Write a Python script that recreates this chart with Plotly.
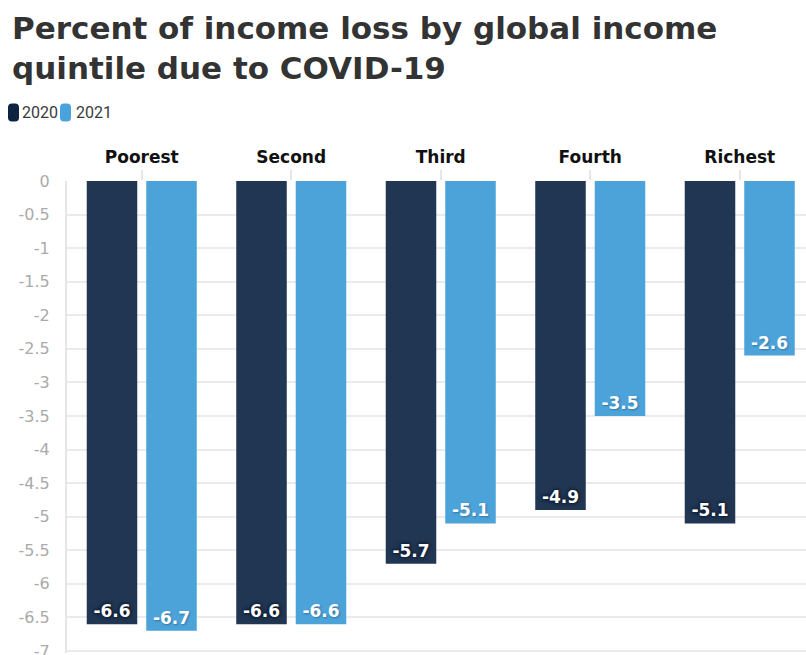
import plotly.graph_objects as go

# Income loss by global income quintile (percent)
quintiles = ["Poorest", "Second", "Third", "Fourth", "Richest"]
loss_2020 = [-6.6, -6.6, -5.7, -4.9, -5.1]
loss_2021 = [-6.7, -6.6, -5.1, -3.5, -2.6]
y_ticks = [0, -0.5, -1, -1.5, -2, -2.5, -3, -3.5, -4, -4.5, -5, -5.5, -6, -6.5, -7]
series_names = ["2020", "2021"]

DARK = "#213652"
LIGHT = "#4ca3d9"
LEGEND_DARK = "#0e2340"
LEGEND_LIGHT = "#4aa2dc"

W, H = 806, 655
ML, MT, MB, MR = 67, 181, 2, 0
plot_w = W - ML - MR
plot_h = H - MT - MB
cat_px = 149.5


def px_x(px):
    return (px - ML) / plot_w


def px_y(py):
    return (H - MB - py) / plot_h


fig = go.Figure()

label_font = dict(family="DejaVu Sans", size=17, color="white", weight="bold")

fig.add_trace(go.Bar(
    x=quintiles, y=loss_2020, name=series_names[0],
    marker=dict(color=DARK, line=dict(width=0)),
    text=[f"{v:.1f}" for v in loss_2020],
    textposition="inside", insidetextanchor="end", textangle=0,
    textfont=dict(**label_font, shadow="0px 0px 3px #0a1426, 0px 0px 4px #0a1426"),
    showlegend=False,
))
fig.add_trace(go.Bar(
    x=quintiles, y=loss_2021, name=series_names[1],
    marker=dict(color=LIGHT, line=dict(width=0)),
    text=[f"{v:.1f}" for v in loss_2021],
    textposition="inside", insidetextanchor="end", textangle=0,
    textfont=dict(**label_font, shadow="1px 1px 2px rgba(20,60,100,0.45)"),
    showlegend=False,
))

# Legend: rounded swatches plus labels
shapes = []
annotations = []
swatch = "M -5.5,-5 L -5.5,5 Q -5.5,9 -1.5,9 L 1.5,9 Q 5.5,9 5.5,5 L 5.5,-5 Q 5.5,-9 1.5,-9 L -1.5,-9 Q -5.5,-9 -5.5,-5 Z"
for cx, txt_x, color, name in [(13.5, 20, LEGEND_DARK, series_names[0]),
                               (65.5, 74, LEGEND_LIGHT, series_names[1])]:
    shapes.append(dict(
        type="path", xref="paper", yref="paper",
        xsizemode="pixel", ysizemode="pixel",
        xanchor=px_x(cx), yanchor=px_y(112.5),
        path=swatch, fillcolor=color, line=dict(width=0), layer="above",
    ))
    annotations.append(dict(
        text=name, xref="paper", yref="paper",
        x=px_x(txt_x), y=px_y(113), xanchor="left", yanchor="middle",
        showarrow=False, font=dict(family="Roboto", size=16, color="#3a3a3a"),
    ))

# Two-line heading
annotations.append(dict(
    text="Percent of income loss by global income<br>quintile due to COVID-19",
    xref="paper", yref="paper", x=px_x(10), y=px_y(8),
    xanchor="left", yanchor="top", align="left", showarrow=False,
    font=dict(family="DejaVu Sans", size=31, color="#333333", weight="bold"),
))

fig.update_layout(
    width=W, height=H,
    margin=dict(l=ML, r=MR, t=MT, b=MB, pad=0, autoexpand=False),
    paper_bgcolor="white", plot_bgcolor="white",
    barmode="group", bargap=0.204, bargroupgap=0.151,
    shapes=shapes,
    annotations=annotations,
    xaxis=dict(
        side="top", range=[-0.5, -0.5 + plot_w / cat_px], automargin=False,
        showgrid=False, zeroline=False, showline=False,
        ticks="outside", ticklen=10, tickwidth=1.5, tickcolor="#e6e6e6",
        tickfont=dict(family="DejaVu Sans", size=17, color="#111111", weight="bold"),
        ticklabelstandoff=0,
    ),
    yaxis=dict(
        range=[-7.03, 0], tickvals=y_ticks, automargin=False,
        ticktext=[f"{v:g}" for v in y_ticks],
        showgrid=True, gridcolor="#ebebeb", gridwidth=1.5,
        zeroline=False, showline=True, linecolor="#e6e6e6", linewidth=2,
        ticks="", ticklabelstandoff=12, ticklabeloverflow="allow",
        tickfont=dict(family="DejaVu Sans", size=16, color="#aaaaaa"),
    ),
)

fig.write_html("out.html")
